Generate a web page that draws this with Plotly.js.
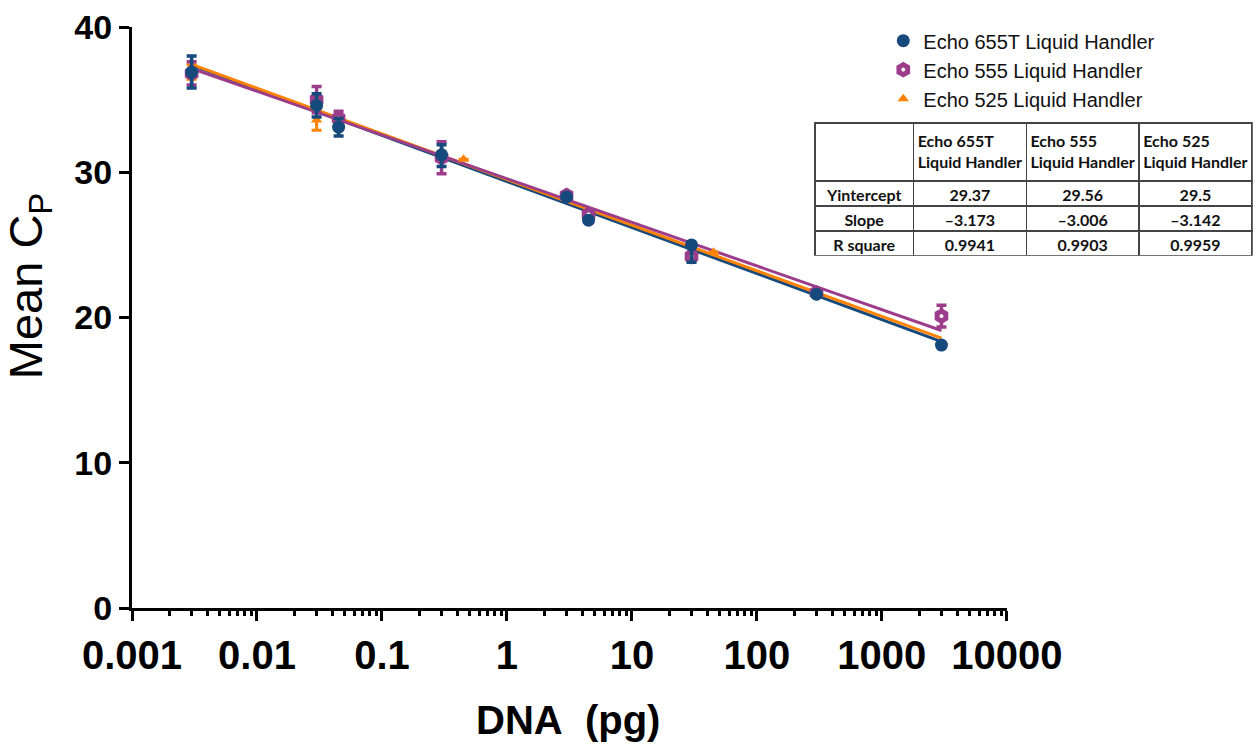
<!DOCTYPE html>
<html>
<head>
<meta charset="utf-8">
<script src="https://cdn.plot.ly/plotly-3.0.1.min.js"></script>
<style>
  html, body { margin: 0; padding: 0; background: #fff; }
  #chart { width: 1260px; height: 754px; }
</style>
</head>
<body>
<div id="chart"></div>
<script>
// ---- data ----
const seriesNames = ['Echo 655T Liquid Handler', 'Echo 555 Liquid Handler', 'Echo 525 Liquid Handler'];
const tableHeaders = ['Echo 655T<br>Liquid Handler', 'Echo 555<br>Liquid Handler', 'Echo 525<br>Liquid Handler'];

const x655 = [0.003, 0.03, 0.045, 0.3, 3, 4.5, 30, 300, 3000];
const y655 = [36.9, 34.6, 33.1, 31.2, 28.3, 26.7, 25.0, 21.6, 18.1];
const errUp655 = [1.1, 0.8, 0.6, 0.7, 0, 0, 0, 0, 0];
const errDn655 = [1.1, 0.8, 0.6, 0.8, 0, 0, 1.2, 0, 0];

const x555 = [0.003, 0.03, 0.045, 0.3, 3, 4.5, 30, 300, 3000];
const y555 = [36.8, 35.0, 33.7, 31.0, 28.4, 27.1, 24.2, 21.7, 20.1];
const err555 = [0.8, 0.9, 0.5, 1.1, 0, 0, 0.3, 0, 0.75];

const x525 = [0.003, 0.03, 0.045, 0.45, 3, 4.5, 45, 300, 3000];
const y525 = [36.9, 33.6, 33.5, 30.9, 28.3, 26.9, 24.5, 21.6, 18.2];
const err525 = [0.5, 0.7, 0.3, 0, 0, 0, 0, 0, 0];

// linear regression results (from the table)
const rowLabels = ['Yintercept', 'Slope', 'R square'];
const yIntercepts = [29.37, 29.56, 29.5];
const slopes = [-3.173, -3.006, -3.142];
const rSquares = [0.9941, 0.9903, 0.9959];
const fitRangeX = [0.003, 3000];

const xTickVals = [0.001, 0.01, 0.1, 1, 10, 100, 1000, 10000];
const xTickText = ['0.001', '0.01', '0.1', '1', '10', '100', '1000', '10000'];
const yTickVals = [0, 10, 20, 30, 40];

// ---- styling ----
const colors = ['#174a7c', '#9b3d8b', '#ff8200'];
const FONT = '"Liberation Sans", Arial, sans-serif';

function fitY(i) {
  return fitRangeX.map(x => yIntercepts[i] + slopes[i] * Math.log10(x));
}

const traces = [];
// fit lines (drawn first, underneath markers)
[0, 2, 1].forEach(i => {
  traces.push({
    type: 'scatter', mode: 'lines', x: fitRangeX, y: fitY(i),
    line: { color: colors[i], width: 3 }, showlegend: false, hoverinfo: 'skip'
  });
});

traces.push({
  type: 'scatter', mode: 'markers', name: seriesNames[2], legendrank: 3,
  x: x525, y: y525,
  error_y: { type: 'data', array: err525, visible: true, color: colors[2], thickness: 3, width: 5 },
  marker: { symbol: 'triangle-up', size: 10, color: colors[2] }
});
traces.push({
  type: 'scatter', mode: 'markers', name: seriesNames[1], legendrank: 2,
  x: x555, y: y555,
  error_y: { type: 'data', array: err555, visible: true, color: colors[1], thickness: 3.5, width: 5 },
  marker: { symbol: 'hexagon', size: 10, color: '#ffffff', line: { color: colors[1], width: 5 } }
});
traces.push({
  type: 'scatter', mode: 'markers', name: seriesNames[0], legendrank: 1,
  x: x655, y: y655,
  error_y: { type: 'data', symmetric: false, array: errUp655, arrayminus: errDn655, visible: true, color: colors[0], thickness: 3.5, width: 5 },
  marker: { symbol: 'circle', size: 13, color: colors[0] }
});

// table of regression results
const tableCols = [rowLabels];
for (let i = 0; i < 3; i++) tableCols.push([String(yIntercepts[i]), String(slopes[i]).replace('-', '\u2013'), String(rSquares[i])]);
traces.push({
  type: 'table',
  domain: { x: [0.608, 0.998], y: [0.606, 0.835] },
  columnwidth: [99, 113, 113, 113],
  header: {
    values: [' '].concat(tableHeaders),
    align: 'center', height: 58,
    line: { color: '#444', width: 1.5 },
    fill: { color: '#ffffff' },
    font: { family: 'Lato, sans-serif', size: 16, color: '#111', weight: 'bold' }
  },
  cells: {
    values: tableCols,
    align: 'center', height: 25,
    line: { color: '#444', width: 1.5 },
    fill: { color: '#ffffff' },
    font: { family: 'Lato, sans-serif', size: 16, color: '#111', weight: 'bold' }
  }
});

const layout = {
  width: 1260, height: 754,
  margin: { l: 132, r: 5, t: 27, b: 146 },
  paper_bgcolor: '#ffffff', plot_bgcolor: '#ffffff',
  font: { family: FONT, color: '#000' },
  showlegend: true,
  legend: {
    x: 0.669, y: 1.01, xanchor: 'left', yanchor: 'top',
    font: { family: FONT, size: 20, color: '#111' },
    bgcolor: 'rgba(0,0,0,0)', borderwidth: 0
  },
  xaxis: {
    type: 'log', domain: [0, 0.779], range: [-3, 4],
    tickvals: xTickVals, ticktext: xTickText,
    showline: true, linecolor: '#000', linewidth: 3,
    ticks: 'outside', ticklen: 10, tickwidth: 3, tickcolor: '#000',
    minor: { dtick: 'D1', ticks: 'outside', ticklen: 5, tickwidth: 3, tickcolor: '#000', showgrid: false },
    tickfont: { family: FONT, size: 40, color: '#000', weight: 'bold' },
    showgrid: false, zeroline: false
  },
  yaxis: {
    range: [0, 40], tickvals: yTickVals,
    showline: true, linecolor: '#000', linewidth: 3,
    ticks: 'outside', ticklen: 10, tickwidth: 3, tickcolor: '#000',
    tickfont: { family: FONT, size: 34, color: '#000', weight: 'bold' },
    showgrid: false, zeroline: false
  },
  annotations: [
    {
      text: 'Mean C<sub>P</sub>', textangle: -90, showarrow: false,
      xref: 'paper', yref: 'paper', x: -0.092, y: 0.555, xanchor: 'center', yanchor: 'middle',
      font: { family: FONT, size: 47, color: '#000' }
    },
    {
      text: 'DNA\u00a0 (pg)', showarrow: false,
      xref: 'paper', yref: 'paper', x: 0.388, y: -0.193, xanchor: 'center', yanchor: 'middle',
      font: { family: FONT, size: 40, color: '#000', weight: 'bold' }
    }
  ]
};

Plotly.newPlot('chart', traces, layout, { displayModeBar: false, staticPlot: true });
</script>
</body>
</html>
